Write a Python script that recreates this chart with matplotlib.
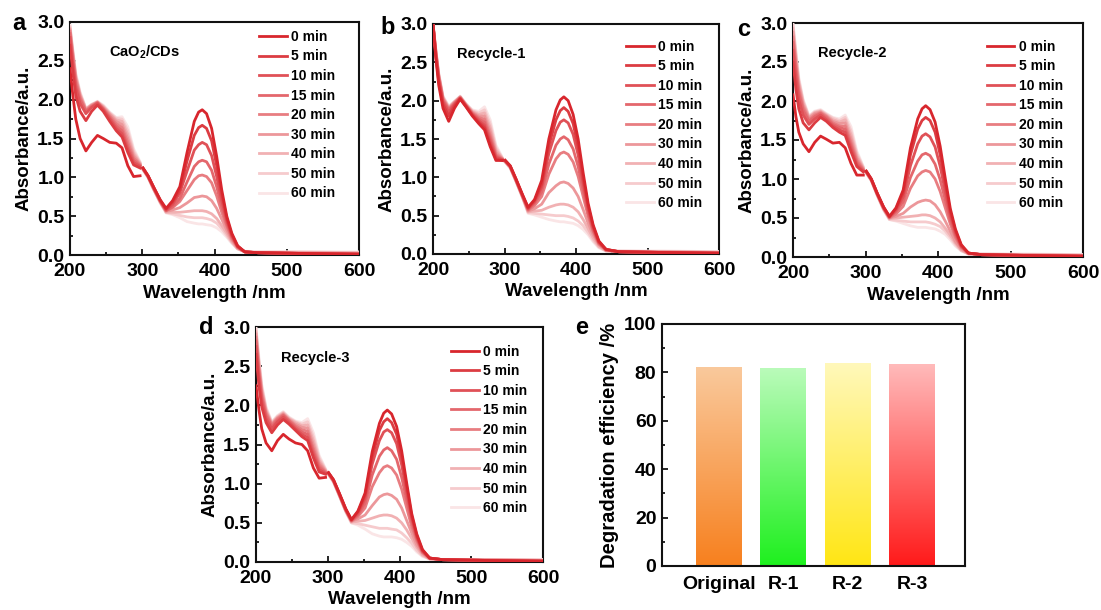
import numpy as np
import matplotlib
matplotlib.use("Agg")
import matplotlib.pyplot as plt
from matplotlib.colors import to_rgb
from matplotlib.ticker import MultipleLocator, FormatStrFormatter

plt.rcParams["font.family"] = ["Liberation Sans", "DejaVu Sans"]
plt.rcParams["font.weight"] = "bold"
plt.rcParams["axes.labelweight"] = "bold"
plt.rcParams["mathtext.fontset"] = "custom"
plt.rcParams["mathtext.rm"] = "Liberation Sans:bold"
plt.rcParams["mathtext.default"] = "rm"

# ---------------------------------------------------------------------------
# Data
# ---------------------------------------------------------------------------

TIMES = ["0 min", "5 min", "10 min", "15 min", "20 min",
         "30 min", "40 min", "50 min", "60 min"]

# UV scan (below the lamp switch) and visible scan (above it)
WL_UV = [200, 204, 208, 214, 222, 230, 238, 246, 255, 264, 272, 280, 288, 297]
WL_VIS = [301, 308, 316, 325, 333, 342, 352, 362, 372, 378, 383, 389, 396,
          403, 410, 417, 424, 432, 442, 460, 520, 600]

# CaO2/CDs
A_UV = [
    [2.40, 2.05, 1.75, 1.50, 1.34, 1.45, 1.54, 1.50, 1.45, 1.44, 1.38, 1.15, 1.01, 1.02],
    [2.70, 2.35, 2.05, 1.85, 1.73, 1.85, 1.93, 1.85, 1.72, 1.60, 1.52, 1.32, 1.16, 1.12],
    [2.80, 2.45, 2.15, 1.95, 1.82, 1.90, 1.95, 1.87, 1.75, 1.63, 1.56, 1.36, 1.19, 1.14],
    [2.85, 2.50, 2.20, 2.00, 1.85, 1.91, 1.96, 1.88, 1.77, 1.66, 1.60, 1.40, 1.22, 1.15],
    [2.88, 2.55, 2.25, 2.03, 1.86, 1.92, 1.96, 1.89, 1.79, 1.69, 1.64, 1.45, 1.25, 1.16],
    [2.90, 2.58, 2.28, 2.05, 1.87, 1.93, 1.97, 1.90, 1.81, 1.72, 1.68, 1.50, 1.28, 1.17],
    [2.92, 2.60, 2.30, 2.07, 1.88, 1.93, 1.97, 1.91, 1.82, 1.74, 1.72, 1.55, 1.31, 1.18],
    [2.94, 2.62, 2.32, 2.08, 1.88, 1.94, 1.97, 1.92, 1.83, 1.76, 1.75, 1.60, 1.34, 1.19],
    [2.96, 2.64, 2.34, 2.10, 1.89, 1.94, 1.98, 1.93, 1.84, 1.77, 1.78, 1.65, 1.37, 1.20],
]
A_VIS = [
    [1.12, 1.02, 0.87, 0.71, 0.60, 0.70, 0.88, 1.32, 1.72, 1.84, 1.87, 1.82, 1.63, 1.27, 0.84, 0.50, 0.28, 0.12, 0.04, 0.03, 0.02, 0.01],
    [1.12, 1.02, 0.87, 0.70, 0.59, 0.68, 0.84, 1.21, 1.54, 1.64, 1.67, 1.63, 1.47, 1.15, 0.78, 0.47, 0.26, 0.11, 0.04, 0.03, 0.02, 0.01],
    [1.12, 1.02, 0.86, 0.70, 0.58, 0.65, 0.80, 1.08, 1.35, 1.42, 1.45, 1.42, 1.28, 1.01, 0.70, 0.44, 0.25, 0.11, 0.04, 0.03, 0.02, 0.01],
    [1.11, 1.01, 0.86, 0.69, 0.57, 0.62, 0.73, 0.94, 1.14, 1.20, 1.22, 1.20, 1.09, 0.88, 0.62, 0.40, 0.23, 0.10, 0.04, 0.03, 0.02, 0.01],
    [1.11, 1.01, 0.85, 0.69, 0.57, 0.61, 0.69, 0.83, 0.97, 1.02, 1.03, 1.01, 0.93, 0.76, 0.55, 0.37, 0.21, 0.10, 0.04, 0.03, 0.02, 0.02],
    [1.11, 1.01, 0.85, 0.68, 0.56, 0.58, 0.61, 0.67, 0.74, 0.75, 0.76, 0.75, 0.70, 0.60, 0.46, 0.32, 0.19, 0.09, 0.04, 0.03, 0.03, 0.02],
    [1.10, 1.00, 0.84, 0.68, 0.55, 0.55, 0.55, 0.56, 0.57, 0.57, 0.57, 0.56, 0.53, 0.47, 0.38, 0.28, 0.17, 0.08, 0.04, 0.03, 0.03, 0.03],
    [1.10, 1.00, 0.84, 0.67, 0.55, 0.53, 0.51, 0.49, 0.48, 0.48, 0.48, 0.47, 0.45, 0.41, 0.34, 0.25, 0.16, 0.08, 0.04, 0.04, 0.04, 0.03],
    [1.10, 1.00, 0.84, 0.67, 0.54, 0.52, 0.48, 0.43, 0.41, 0.40, 0.40, 0.39, 0.38, 0.35, 0.30, 0.23, 0.15, 0.08, 0.05, 0.04, 0.04, 0.04],
]

# Recycle-1
B_UV = [
    [3.00, 2.55, 2.20, 1.90, 1.73, 1.90, 2.02, 1.92, 1.80, 1.70, 1.62, 1.40, 1.22, 1.22],
    [3.00, 2.58, 2.25, 1.95, 1.80, 1.93, 2.03, 1.93, 1.81, 1.72, 1.65, 1.43, 1.24, 1.22],
    [3.00, 2.60, 2.28, 1.98, 1.85, 1.95, 2.03, 1.93, 1.82, 1.74, 1.68, 1.47, 1.26, 1.23],
    [3.00, 2.62, 2.30, 2.00, 1.88, 1.96, 2.04, 1.94, 1.83, 1.76, 1.72, 1.51, 1.28, 1.23],
    [3.00, 2.63, 2.32, 2.02, 1.89, 1.97, 2.04, 1.94, 1.84, 1.78, 1.76, 1.55, 1.30, 1.24],
    [3.00, 2.64, 2.33, 2.03, 1.90, 1.98, 2.05, 1.95, 1.85, 1.80, 1.80, 1.60, 1.33, 1.24],
    [3.00, 2.65, 2.34, 2.04, 1.91, 1.98, 2.05, 1.95, 1.86, 1.82, 1.84, 1.65, 1.36, 1.25],
    [3.00, 2.66, 2.35, 2.05, 1.92, 1.99, 2.05, 1.96, 1.87, 1.84, 1.88, 1.70, 1.39, 1.25],
    [3.00, 2.67, 2.36, 2.06, 1.93, 1.99, 2.06, 1.96, 1.88, 1.86, 1.92, 1.75, 1.42, 1.26],
]
B_VIS = [
    [1.22, 1.15, 0.98, 0.78, 0.61, 0.71, 0.96, 1.50, 1.88, 2.01, 2.05, 2.00, 1.82, 1.50, 1.06, 0.66, 0.38, 0.17, 0.06, 0.03, 0.02, 0.01],
    [1.22, 1.15, 0.98, 0.77, 0.60, 0.70, 0.91, 1.41, 1.75, 1.87, 1.91, 1.86, 1.70, 1.40, 0.99, 0.62, 0.36, 0.16, 0.06, 0.03, 0.02, 0.01],
    [1.22, 1.14, 0.97, 0.77, 0.59, 0.68, 0.87, 1.31, 1.61, 1.72, 1.75, 1.71, 1.56, 1.29, 0.92, 0.58, 0.34, 0.15, 0.06, 0.03, 0.02, 0.01],
    [1.21, 1.14, 0.97, 0.76, 0.58, 0.66, 0.81, 1.17, 1.42, 1.50, 1.53, 1.49, 1.37, 1.14, 0.83, 0.53, 0.31, 0.14, 0.05, 0.03, 0.02, 0.01],
    [1.21, 1.14, 0.96, 0.76, 0.57, 0.63, 0.75, 1.04, 1.24, 1.31, 1.33, 1.30, 1.20, 1.01, 0.75, 0.49, 0.29, 0.13, 0.05, 0.03, 0.02, 0.02],
    [1.21, 1.13, 0.96, 0.75, 0.56, 0.59, 0.65, 0.80, 0.89, 0.93, 0.94, 0.92, 0.86, 0.75, 0.58, 0.40, 0.25, 0.12, 0.05, 0.03, 0.03, 0.02],
    [1.20, 1.13, 0.95, 0.75, 0.55, 0.56, 0.57, 0.61, 0.64, 0.65, 0.65, 0.64, 0.61, 0.55, 0.45, 0.33, 0.21, 0.10, 0.04, 0.03, 0.03, 0.02],
    [1.20, 1.12, 0.95, 0.74, 0.54, 0.53, 0.52, 0.51, 0.50, 0.50, 0.50, 0.49, 0.47, 0.43, 0.37, 0.28, 0.18, 0.09, 0.04, 0.04, 0.03, 0.03],
    [1.20, 1.12, 0.95, 0.74, 0.53, 0.51, 0.48, 0.45, 0.43, 0.42, 0.42, 0.41, 0.40, 0.37, 0.32, 0.25, 0.16, 0.08, 0.04, 0.04, 0.04, 0.03],
]

# Recycle-2
C_UV = [
    [2.08, 1.80, 1.60, 1.45, 1.35, 1.47, 1.55, 1.51, 1.46, 1.47, 1.40, 1.20, 1.05, 1.05],
    [2.50, 2.15, 1.90, 1.72, 1.63, 1.72, 1.79, 1.74, 1.66, 1.60, 1.56, 1.35, 1.16, 1.09],
    [2.65, 2.30, 2.02, 1.82, 1.70, 1.77, 1.82, 1.76, 1.68, 1.63, 1.60, 1.39, 1.18, 1.10],
    [2.75, 2.40, 2.10, 1.88, 1.74, 1.80, 1.84, 1.78, 1.70, 1.66, 1.64, 1.43, 1.21, 1.11],
    [2.82, 2.47, 2.15, 1.92, 1.76, 1.82, 1.85, 1.80, 1.72, 1.68, 1.68, 1.47, 1.24, 1.12],
    [2.88, 2.52, 2.20, 1.95, 1.78, 1.84, 1.86, 1.81, 1.74, 1.71, 1.72, 1.52, 1.27, 1.13],
    [2.93, 2.57, 2.24, 1.98, 1.79, 1.85, 1.87, 1.82, 1.76, 1.73, 1.76, 1.57, 1.30, 1.14],
    [2.97, 2.61, 2.27, 2.00, 1.80, 1.86, 1.88, 1.83, 1.78, 1.75, 1.79, 1.62, 1.33, 1.15],
    [3.00, 2.65, 2.30, 2.02, 1.81, 1.87, 1.89, 1.84, 1.79, 1.77, 1.82, 1.67, 1.36, 1.16],
]
C_VIS = [
    [1.10, 1.00, 0.82, 0.64, 0.52, 0.63, 0.86, 1.40, 1.77, 1.90, 1.94, 1.89, 1.73, 1.42, 1.01, 0.62, 0.36, 0.16, 0.05, 0.03, 0.02, 0.01],
    [1.10, 1.00, 0.82, 0.64, 0.52, 0.62, 0.82, 1.31, 1.64, 1.75, 1.79, 1.75, 1.60, 1.31, 0.94, 0.58, 0.34, 0.15, 0.05, 0.03, 0.02, 0.01],
    [1.10, 1.00, 0.82, 0.63, 0.51, 0.60, 0.77, 1.17, 1.45, 1.55, 1.58, 1.54, 1.41, 1.16, 0.84, 0.53, 0.31, 0.14, 0.05, 0.03, 0.02, 0.01],
    [1.09, 0.99, 0.81, 0.63, 0.51, 0.58, 0.71, 1.02, 1.23, 1.31, 1.33, 1.30, 1.19, 0.99, 0.73, 0.47, 0.28, 0.13, 0.05, 0.03, 0.02, 0.01],
    [1.09, 0.99, 0.81, 0.62, 0.50, 0.55, 0.65, 0.88, 1.04, 1.09, 1.11, 1.09, 1.00, 0.84, 0.63, 0.42, 0.25, 0.12, 0.05, 0.03, 0.02, 0.02],
    [1.09, 0.99, 0.80, 0.62, 0.50, 0.52, 0.56, 0.64, 0.70, 0.72, 0.73, 0.72, 0.67, 0.58, 0.46, 0.33, 0.20, 0.10, 0.04, 0.03, 0.03, 0.02],
    [1.08, 0.98, 0.80, 0.61, 0.49, 0.50, 0.51, 0.52, 0.53, 0.54, 0.54, 0.53, 0.50, 0.45, 0.37, 0.28, 0.18, 0.09, 0.04, 0.03, 0.03, 0.02],
    [1.08, 0.98, 0.80, 0.61, 0.48, 0.47, 0.46, 0.45, 0.45, 0.45, 0.45, 0.44, 0.42, 0.39, 0.33, 0.25, 0.16, 0.08, 0.04, 0.04, 0.03, 0.03],
    [1.08, 0.98, 0.79, 0.60, 0.48, 0.46, 0.43, 0.40, 0.38, 0.38, 0.38, 0.37, 0.36, 0.33, 0.29, 0.22, 0.14, 0.08, 0.04, 0.04, 0.04, 0.03],
]

# Recycle-3
D_UV = [
    [2.25, 1.95, 1.70, 1.52, 1.42, 1.55, 1.63, 1.57, 1.52, 1.50, 1.42, 1.20, 1.07, 1.08],
    [2.65, 2.25, 1.98, 1.78, 1.65, 1.75, 1.82, 1.76, 1.68, 1.60, 1.55, 1.33, 1.15, 1.12],
    [2.75, 2.35, 2.05, 1.83, 1.70, 1.79, 1.85, 1.78, 1.70, 1.63, 1.59, 1.37, 1.18, 1.13],
    [2.82, 2.42, 2.10, 1.87, 1.73, 1.81, 1.87, 1.80, 1.72, 1.66, 1.63, 1.41, 1.21, 1.14],
    [2.87, 2.47, 2.14, 1.90, 1.75, 1.83, 1.88, 1.81, 1.74, 1.69, 1.67, 1.45, 1.24, 1.15],
    [2.91, 2.51, 2.18, 1.92, 1.76, 1.84, 1.89, 1.82, 1.76, 1.72, 1.71, 1.50, 1.27, 1.16],
    [2.94, 2.55, 2.21, 1.94, 1.77, 1.85, 1.90, 1.83, 1.78, 1.74, 1.75, 1.55, 1.30, 1.17],
    [2.97, 2.58, 2.24, 1.96, 1.78, 1.86, 1.91, 1.84, 1.79, 1.76, 1.79, 1.60, 1.33, 1.18],
    [3.00, 2.62, 2.27, 1.98, 1.79, 1.87, 1.92, 1.85, 1.80, 1.78, 1.83, 1.65, 1.36, 1.19],
]
D_VIS = [
    [1.14, 1.05, 0.88, 0.68, 0.54, 0.65, 0.88, 1.41, 1.77, 1.90, 1.94, 1.89, 1.73, 1.42, 1.01, 0.62, 0.36, 0.16, 0.05, 0.03, 0.02, 0.01],
    [1.14, 1.05, 0.88, 0.68, 0.54, 0.64, 0.85, 1.34, 1.68, 1.79, 1.83, 1.78, 1.63, 1.34, 0.96, 0.59, 0.34, 0.15, 0.05, 0.03, 0.02, 0.01],
    [1.14, 1.04, 0.87, 0.67, 0.53, 0.62, 0.81, 1.25, 1.55, 1.66, 1.69, 1.65, 1.51, 1.24, 0.89, 0.56, 0.32, 0.14, 0.05, 0.03, 0.02, 0.01],
    [1.13, 1.04, 0.87, 0.67, 0.53, 0.60, 0.75, 1.11, 1.35, 1.43, 1.46, 1.42, 1.31, 1.08, 0.79, 0.51, 0.30, 0.13, 0.05, 0.03, 0.02, 0.01],
    [1.13, 1.04, 0.86, 0.66, 0.52, 0.58, 0.69, 0.96, 1.14, 1.21, 1.23, 1.20, 1.11, 0.93, 0.69, 0.45, 0.27, 0.12, 0.05, 0.03, 0.02, 0.02],
    [1.13, 1.03, 0.86, 0.66, 0.52, 0.55, 0.60, 0.72, 0.83, 0.86, 0.87, 0.85, 0.80, 0.69, 0.53, 0.37, 0.22, 0.11, 0.04, 0.03, 0.03, 0.02],
    [1.12, 1.03, 0.85, 0.65, 0.51, 0.52, 0.53, 0.56, 0.59, 0.60, 0.60, 0.59, 0.56, 0.50, 0.41, 0.30, 0.19, 0.09, 0.04, 0.03, 0.03, 0.02],
    [1.12, 1.02, 0.85, 0.65, 0.50, 0.49, 0.47, 0.45, 0.43, 0.43, 0.43, 0.42, 0.41, 0.37, 0.31, 0.24, 0.15, 0.08, 0.04, 0.03, 0.03, 0.03],
    [1.12, 1.02, 0.85, 0.64, 0.50, 0.47, 0.42, 0.36, 0.33, 0.32, 0.32, 0.32, 0.31, 0.29, 0.25, 0.20, 0.13, 0.07, 0.04, 0.03, 0.03, 0.03],
]

SAMPLES = ["Original", "R-1", "R-2", "R-3"]
EFFICIENCY = [81.9, 81.7, 83.5, 83.3]

# ---------------------------------------------------------------------------
# Styling
# ---------------------------------------------------------------------------

W, H = 1101, 610
BASE_RED = np.array(to_rgb("#D8262D"))
FADE = [0.0, 0.1, 0.2, 0.3, 0.4, 0.52, 0.64, 0.76, 0.88]
LINE_COLORS = [tuple(BASE_RED + (1 - BASE_RED) * f) for f in FADE]

BAR_GRADIENTS = [
    ("#F7801E", "#FAC99C"),
    ("#1EF01E", "#BAFBBA"),
    ("#FFE614", "#FFF8BA"),
    ("#FF1A1A", "#FFBABA"),
]

SPINE_W = 1.5


def px_rect(x0, y0, x1, y1):
    return [x0 / W, 1 - y1 / H, (x1 - x0) / W, (y1 - y0) / H]


fig = plt.figure(figsize=(W / 100, H / 100), dpi=100)
fig.patch.set_facecolor("white")


def style_axes(ax):
    for s in ax.spines.values():
        s.set_linewidth(SPINE_W)
        s.set_color("#111111")
    ax.tick_params(which="both", direction="in", top=False, right=False,
                   width=1.2, labelsize=14, pad=4)
    ax.tick_params(which="major", length=4)
    ax.tick_params(which="minor", length=2.5)


def spectra_panel(rect, uv, vis, tag, tag_x, letter, letter_xy, leg_xy):
    ax = fig.add_axes(px_rect(*rect))
    handles = [None] * len(TIMES)
    for i in reversed(range(len(TIMES))):
        c = LINE_COLORS[i]
        ax.plot(WL_UV, uv[i], color=c, lw=2.0, zorder=20 - i)
        (h,) = ax.plot(WL_VIS, vis[i], color=c, lw=2.0, zorder=20 - i,
                       label=TIMES[i])
        handles[i] = h
    ax.set_xlim(200, 600)
    ax.set_ylim(0, 3.0)
    ax.xaxis.set_major_locator(MultipleLocator(100))
    ax.xaxis.set_minor_locator(MultipleLocator(50))
    ax.yaxis.set_major_locator(MultipleLocator(0.5))
    ax.yaxis.set_minor_locator(MultipleLocator(0.25))
    ax.yaxis.set_major_formatter(FormatStrFormatter("%.1f"))
    style_axes(ax)
    ax.tick_params(axis="x", pad=6)
    ax.set_xlabel("Wavelength /nm", fontsize=13.5, labelpad=3)
    ax.set_ylabel("Absorbance/a.u.", fontsize=13.5, labelpad=3)
    ax.text(tag_x, 0.87, tag, transform=ax.transAxes, fontsize=10.5,
            ha="left", va="center")
    ax.legend(handles=handles, loc="upper left", bbox_to_anchor=leg_xy,
              frameon=False, fontsize=10, handlelength=2.0,
              handletextpad=0.3, labelspacing=0.4, borderpad=0,
              borderaxespad=0)
    fig.text(letter_xy[0] / W, 1 - letter_xy[1] / H, letter, fontsize=17,
             ha="center", va="center")
    return ax


spectra_panel((70, 22, 359, 255), A_UV, A_VIS, r"CaO$_2$/CDs", 0.135, "a",
              (19, 24), (0.655, 0.966))
spectra_panel((433, 24, 719, 254), B_UV, B_VIS, "Recycle-1", 0.085, "b",
              (388, 27), (0.675, 0.932))
spectra_panel((793, 23, 1083, 257), C_UV, C_VIS, "Recycle-2", 0.086, "c",
              (744, 29), (0.668, 0.929))
spectra_panel((256, 327, 543, 562), D_UV, D_VIS, "Recycle-3", 0.087, "d",
              (206, 328), (0.680, 0.925))

# ---------------------------------------------------------------------------
# Panel e: degradation efficiency with vertical gradient bars
# ---------------------------------------------------------------------------

ax = fig.add_axes(px_rect(662, 324, 965, 566))
x = np.arange(len(SAMPLES))
bars = ax.bar(x, EFFICIENCY, width=0.71, color="none", edgecolor="none")
ramp = np.linspace(0, 1, 256)[:, None, None]
for b, (c_bot, c_top) in zip(bars, BAR_GRADIENTS):
    bot = np.array(to_rgb(c_bot))
    top = np.array(to_rgb(c_top))
    img = bot + (top - bot) * ramp
    ax.imshow(img, origin="lower", aspect="auto", interpolation="bilinear",
              extent=(b.get_x(), b.get_x() + b.get_width(), 0, b.get_height()),
              zorder=2)
ax.set_xlim(-0.88, 3.82)
ax.set_ylim(0, 100)
ax.set_xticks(x)
ax.set_xticklabels(SAMPLES)
ax.yaxis.set_major_locator(MultipleLocator(20))
ax.yaxis.set_minor_locator(MultipleLocator(10))
style_axes(ax)
ax.tick_params(axis="x", which="both", length=0, labelsize=14, pad=7)
ax.set_ylabel("Degradation efficiency /%", fontsize=14.5, labelpad=4)
fig.text(582 / W, 1 - 328 / H, "e", fontsize=17, ha="center", va="center")

fig.savefig("out.png", dpi=100, facecolor="white")
